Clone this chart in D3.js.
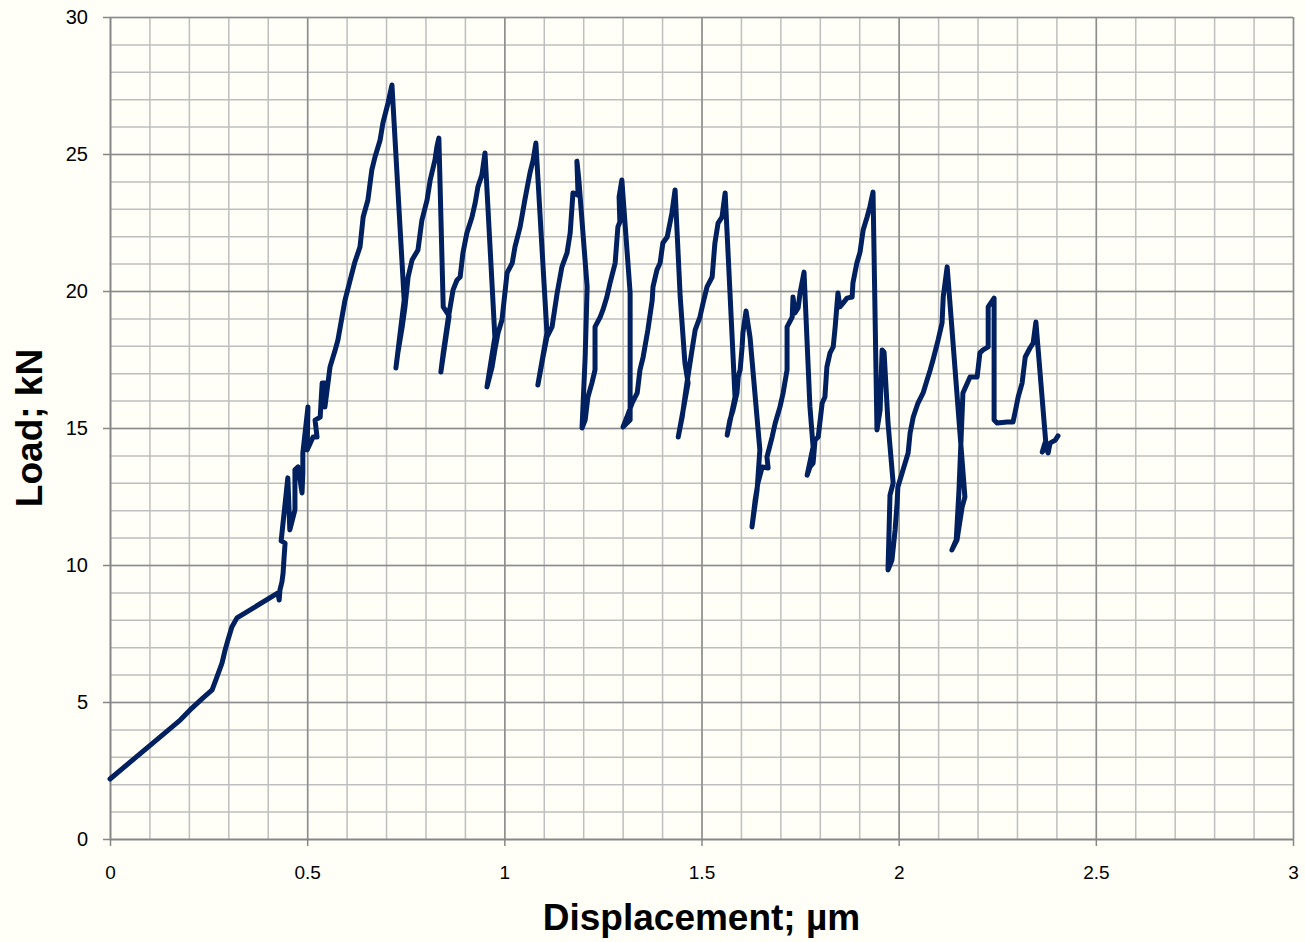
<!DOCTYPE html>
<html>
<head>
<meta charset="utf-8">
<script src="https://cdn.jsdelivr.net/npm/d3@7"></script>
<style>
  html, body { margin: 0; padding: 0; background: #fffff8; }
  svg { display: block; font-family: "Liberation Sans", Arial, sans-serif; }
</style>
</head>
<body>
<div id="chart"></div>
<script>
// displacement (µm) and load (kN)
const displacement = [
  0, 0.178, 0.203, 0.236, 0.259, 0.271, 0.284, 0.292, 0.299, 0.309, 0.322,
  0.426, 0.429, 0.431, 0.436, 0.439, 0.441, 0.444, 0.434, 0.451, 0.456, 0.469, 0.469, 0.477,
  0.487, 0.489, 0.489, 0.502, 0.500, 0.515, 0.525, 0.520, 0.533, 0.538, 0.545, 0.545,
  0.558, 0.571, 0.578, 0.596, 0.609, 0.621, 0.634, 0.642, 0.654, 0.664, 0.672, 0.685,
  0.692, 0.705, 0.715,
  0.746, 0.725, 0.730, 0.741, 0.748, 0.756, 0.766, 0.781, 0.791, 0.804, 0.812, 0.824, 0.829, 0.834,
  0.845, 0.860, 0.839, 0.845, 0.857, 0.870, 0.880, 0.888, 0.895, 0.905, 0.918, 0.926, 0.933, 0.943, 0.951,
  0.976, 0.956, 0.969, 0.976, 0.984, 0.994, 1.007, 1.020, 1.027, 1.040, 1.052, 1.065, 1.073, 1.080,
  1.108, 1.085, 1.098, 1.108, 1.121, 1.134, 1.146, 1.159, 1.167, 1.174, 1.187, 1.184,
  1.189, 1.210, 1.205, 1.197, 1.205, 1.212, 1.222, 1.230, 1.230, 1.243, 1.250, 1.260, 1.268, 1.281,
  1.288, 1.293, 1.291, 1.298,
  1.319, 1.319, 1.301, 1.311, 1.324, 1.337, 1.344, 1.352, 1.364, 1.375, 1.377, 1.387, 1.395, 1.402,
  1.413, 1.425, 1.433,
  1.446, 1.458, 1.466, 1.441, 1.451, 1.458, 1.463, 1.476, 1.484, 1.496, 1.504, 1.514, 1.527, 1.534,
  1.542, 1.552, 1.560,
  1.585, 1.565, 1.572, 1.580, 1.590, 1.593, 1.598, 1.603, 1.605, 1.613,
  1.623, 1.648, 1.641, 1.628, 1.636, 1.643, 1.654, 1.669, 1.666, 1.679, 1.687, 1.699, 1.707, 1.717,
  1.717, 1.730, 1.732, 1.737, 1.745, 1.750, 1.760,
  1.775, 1.783, 1.768, 1.775, 1.783, 1.788, 1.796, 1.806, 1.813, 1.818, 1.826, 1.834, 1.839, 1.846,
  1.851, 1.859, 1.869, 1.882, 1.884, 1.894, 1.902, 1.910, 1.920, 1.927, 1.935,
  1.945, 1.953, 1.958, 1.963, 1.973, 1.986, 1.978, 1.973, 1.983, 1.991, 1.996, 1.998, 2.011, 2.024,
  2.029, 2.037, 2.049, 2.062, 2.072, 2.080, 2.087, 2.100, 2.110, 2.113, 2.123,
  2.168, 2.161, 2.148, 2.135, 2.146, 2.153, 2.163, 2.181, 2.199, 2.206, 2.214, 2.227, 2.227, 2.242,
  2.242, 2.250, 2.275, 2.290, 2.298, 2.303, 2.313, 2.321, 2.333, 2.341, 2.348,
  2.374, 2.364, 2.371, 2.379, 2.384, 2.397, 2.404
];
const load = [
  2.19, 4.34, 4.71, 5.15, 5.44, 5.91, 6.42, 6.90, 7.26, 7.74, 8.07,
  8.98, 8.72, 9.09, 9.38, 9.71, 10.18, 10.80, 10.88, 13.18, 11.28, 12.01, 13.47, 13.58,
  12.63, 13.36, 14.09, 15.77, 14.20, 14.67, 14.67, 15.29, 15.40, 16.64, 16.64, 15.77,
  17.23, 17.85, 18.21, 19.67, 20.40, 21.06, 21.61, 22.70, 23.32, 24.42, 24.89, 25.51,
  26.13, 26.86, 27.52,
  19.67, 17.19, 17.74, 18.69, 19.42, 20.51, 21.13, 21.50, 22.59, 23.32, 24.05, 24.78, 25.26, 25.58,
  19.42, 19.09, 17.04, 17.74, 18.94, 20.04, 20.40, 20.51, 21.39, 22.12, 22.70, 23.21, 23.80, 24.23, 25.04,
  18.32, 16.50, 17.23, 17.85, 18.47, 18.94, 20.66, 21.02, 21.61, 22.34, 23.32, 24.31, 24.78, 25.40,
  18.47, 16.57, 17.59, 18.32, 18.69, 19.93, 20.88, 21.39, 22.12, 23.58, 23.50, 24.74,
  24.05, 20.15, 17.59, 15.00, 15.29, 16.13, 16.64, 17.12, 18.69, 19.05, 19.31, 19.78, 20.29, 21.02,
  22.34, 22.52, 23.43, 24.05,
  19.93, 15.29, 15.04, 15.40, 15.91, 16.28, 17.12, 17.59, 18.58, 19.67, 20.15, 20.77, 21.02, 21.75,
  21.97, 22.85, 23.69,
  19.78, 17.37, 16.64, 14.67, 15.40, 16.13, 16.64, 17.85, 18.58, 19.05, 19.56, 20.15, 20.51, 21.75,
  22.48, 22.70, 23.58,
  16.13, 14.74, 15.29, 15.66, 16.28, 16.86, 17.12, 17.96, 18.47, 19.27,
  18.32, 14.20, 12.74, 11.39, 12.37, 12.99, 13.58, 13.54, 13.94, 14.67, 15.18, 15.77, 16.28, 17.12,
  18.69, 19.05, 19.78, 19.20, 19.38, 19.93, 20.69,
  15.77, 14.31, 13.28, 13.58, 13.72, 14.56, 14.67, 15.91, 16.13, 17.23, 17.74, 17.96, 18.69, 19.93,
  19.42, 19.56, 19.74, 19.78, 20.29, 21.02, 21.42, 22.23, 22.70, 23.07, 23.61,
  14.93, 15.66, 17.85, 17.77, 15.18, 12.99, 12.55, 9.82, 10.18, 11.28, 12.26, 12.85, 13.47, 14.09,
  14.82, 15.40, 15.91, 16.28, 16.75, 17.12, 17.48, 18.21, 18.83, 19.78, 20.88,
  12.48, 12.12, 10.92, 10.55, 10.92, 12.74, 16.28, 16.86, 16.86, 17.74, 17.85, 17.96, 19.42, 19.74,
  15.29, 15.18, 15.22, 15.22, 15.77, 16.13, 16.64, 17.59, 17.92, 18.10, 18.87,
  14.31, 14.12, 14.45, 14.09, 14.45, 14.56, 14.71
];

const xTicks = [0, 0.5, 1, 1.5, 2, 2.5, 3];
const yTicks = [0, 5, 10, 15, 20, 25, 30];
const xLabel = "Displacement; µm";
const yLabel = "Load; kN";

const width = 1305, height = 942;
const margin = { top: 17, right: 12, bottom: 103, left: 110 };

const svg = d3.select("#chart").append("svg")
  .attr("width", width)
  .attr("height", height);

svg.append("rect")
  .attr("width", width)
  .attr("height", height)
  .attr("fill", "#fffff8");

const x = d3.scaleLinear()
  .domain([0, 3])
  .range([margin.left, width - margin.right]);
const y = d3.scaleLinear()
  .domain([0, 30])
  .range([height - margin.bottom, margin.top]);

// minor grid
svg.append("g")
  .attr("transform", `translate(0, ${height - margin.bottom})`)
  .call(d3.axisBottom(x).tickValues(d3.range(0, 3.001, 0.1)).tickSize(-(height - margin.top - margin.bottom)).tickFormat(""))
  .call(g => g.select(".domain").remove())
  .call(g => g.selectAll("line").attr("stroke", "#bebebe").attr("stroke-width", 1.5));
svg.append("g")
  .attr("transform", `translate(${margin.left}, 0)`)
  .call(d3.axisLeft(y).tickValues(d3.range(0, 30.01, 1)).tickSize(-(width - margin.left - margin.right)).tickFormat(""))
  .call(g => g.select(".domain").remove())
  .call(g => g.selectAll("line").attr("stroke", "#bebebe").attr("stroke-width", 1.5));

// major grid
svg.append("g")
  .attr("transform", `translate(0, ${height - margin.bottom})`)
  .call(d3.axisBottom(x).tickValues(xTicks).tickSize(-(height - margin.top - margin.bottom)).tickFormat(""))
  .call(g => g.select(".domain").remove())
  .call(g => g.selectAll("line").attr("stroke", "#8c8c8c").attr("stroke-width", 1.5));
svg.append("g")
  .attr("transform", `translate(${margin.left}, 0)`)
  .call(d3.axisLeft(y).tickValues(yTicks).tickSize(-(width - margin.left - margin.right)).tickFormat(""))
  .call(g => g.select(".domain").remove())
  .call(g => g.selectAll("line").attr("stroke", "#8c8c8c").attr("stroke-width", 1.5));

// axes
svg.append("g")
  .attr("transform", `translate(0, ${height - margin.bottom})`)
  .call(d3.axisBottom(x).tickValues(xTicks).tickSize(7).tickPadding(20).tickSizeOuter(0).tickFormat(d3.format("")))
  .call(g => g.selectAll("line, .domain").attr("stroke", "#868686").attr("stroke-width", 1.5))
  .call(g => g.selectAll("text").attr("font-size", 19).attr("fill", "#000").attr("font-family", "Liberation Sans, Arial, sans-serif"));
svg.append("g")
  .attr("transform", `translate(${margin.left}, 0)`)
  .call(d3.axisLeft(y).tickValues(yTicks).tickSize(7).tickPadding(15).tickSizeOuter(0))
  .call(g => g.selectAll("line, .domain").attr("stroke", "#868686").attr("stroke-width", 1.5))
  .call(g => g.selectAll("text").attr("font-size", 20).attr("fill", "#000").attr("font-family", "Liberation Sans, Arial, sans-serif"));

// curve
const points = displacement.map((d, i) => ({ d: d, l: load[i] }));
const line = d3.line()
  .x(p => x(p.d))
  .y(p => y(p.l));
svg.append("path")
  .datum(points)
  .attr("fill", "none")
  .attr("stroke", "#002060")
  .attr("stroke-width", 5)
  .attr("stroke-linejoin", "round")
  .attr("stroke-linecap", "round")
  .attr("d", line);

// titles
svg.append("text")
  .attr("x", (margin.left + width - margin.right) / 2)
  .attr("y", 930)
  .attr("text-anchor", "middle")
  .attr("font-size", 37)
  .attr("font-weight", "bold")
  .text(xLabel);
svg.append("text")
  .attr("transform", `translate(42, ${(margin.top + height - margin.bottom) / 2}) rotate(-90)`)
  .attr("text-anchor", "middle")
  .attr("font-size", 37)
  .attr("font-weight", "bold")
  .text(yLabel);
</script>
</body>
</html>
